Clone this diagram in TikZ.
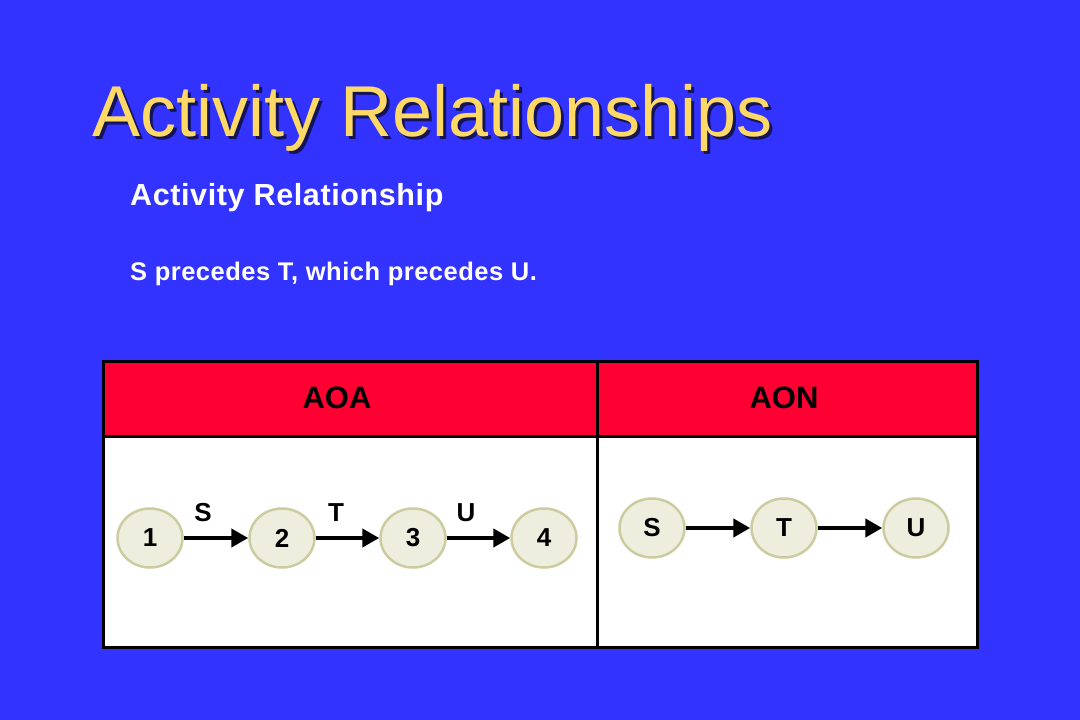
\documentclass[tikz,border=0pt]{standalone}
\usepackage{fontspec}
\setmainfont{Liberation Sans}
\usetikzlibrary{arrows.meta,shapes.geometric}
\definecolor{bgblue}{RGB}{51,51,255}
\definecolor{titleyel}{RGB}{255,217,102}
\definecolor{titleshadow}{RGB}{20,20,90}
\definecolor{hdrred}{RGB}{255,0,51}
\definecolor{nodefill}{RGB}{238,238,222}
\definecolor{nodeedge}{RGB}{204,204,160}
\tikzset{
  txt/.style={inner sep=0pt, anchor=base west},
  evnode/.style={ellipse, draw=nodeedge, line width=2.5pt, fill=nodefill,
    minimum width=65pt, minimum height=59pt, inner sep=0pt,
    font=\fontsize{26}{30}\selectfont\bfseries},
  lbl/.style={inner sep=0pt, anchor=base, font=\fontsize{26}{30}\selectfont\bfseries},
  arr/.style={line width=4.5pt, -{Triangle[length=17pt,width=18pt]}},
  hdr/.style={inner sep=0pt, font=\fontsize{31}{36}\selectfont\bfseries}
}
\begin{document}
\begin{tikzpicture}[x=1pt,y=-1pt]
\useasboundingbox (0,0) rectangle (1080,720);
\fill[bgblue] (0,0) rectangle (1080,720);
% title with shadow
\node[txt, text=titleyel, font=\fontsize{72}{80}\selectfont] (title) at (92,136)
  {\makebox[0pt][l]{\hspace{3pt}\raisebox{-3pt}{\color{titleshadow}Activity Relationships}}Activity Relationships};
\node[txt, text=white, font=\fontsize{30.5}{34}\selectfont\bfseries\addfontfeature{LetterSpace=2}] (sub) at (130,205) {Activity Relationship};
\node[txt, text=white, font=\fontsize{25.5}{28}\selectfont\bfseries\addfontfeature{LetterSpace=2}] (desc) at (130,280) {S precedes T, which precedes U.};
% table
\fill[white] (103,436) rectangle (977,647);
\fill[hdrred] (103,361) rectangle (977,436);
\draw[line width=3pt] (103,361) rectangle (977,647);
\draw[line width=3pt] (103,436) -- (977,436);
\draw[line width=3pt] (597,361) -- (597,647);
\node[hdr] (aoa) at (337,398) {AOA};
\node[hdr] (aon) at (784,398) {AON};
% AOA
\node[evnode] (n1) at (150,538) {1};
\node[evnode] (n2) at (282,538) {2};
\node[evnode] (n3) at (413,538) {3};
\node[evnode] (n4) at (544,538) {4};
\draw[arr] (n1) -- (n2);
\draw[arr] (n2) -- (n3);
\draw[arr] (n3) -- (n4);
\node[lbl] (ls) at (203,521) {S};
\node[lbl] (lt) at (336,521) {T};
\node[lbl] (lu) at (466,521) {U};
% AON
\node[evnode] (s) at (652,528) {S};
\node[evnode] (t) at (784,528) {T};
\node[evnode] (u) at (916,528) {U};
\draw[arr] (s) -- (t);
\draw[arr] (t) -- (u);
\end{tikzpicture}
\end{document}
